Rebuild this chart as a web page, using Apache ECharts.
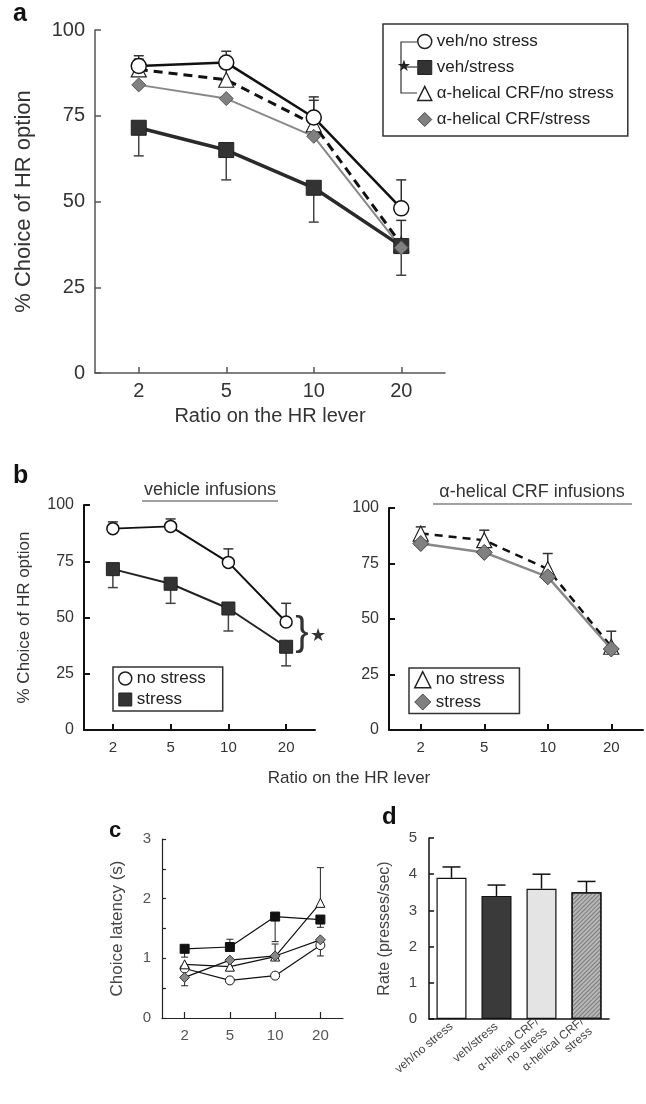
<!DOCTYPE html>
<html>
<head>
<meta charset="utf-8">
<script src="https://cdn.jsdelivr.net/npm/echarts@6/dist/echarts.min.js"></script>
<style>
  html, body { margin: 0; padding: 0; background: #fff; }
  #fig { width: 646px; height: 1104px; }
</style>
</head>
<body>
<div id="fig"></div>
<script>
// ratio on the HR lever (x categories)
const ratios = ['2', '5', '10', '20'];

// % choice of HR option (panels a and b) + error bar ends
const vehNoStress = [89.5, 90.5, 74.5, 48];
const vehNoStressErr = [92.5, 93.8, 80.5, 56.3];
const vehStress = [71.5, 65, 54, 37];
const vehStressErr = [63.3, 56.3, 44, 28.5];
const crfNoStress = [88.5, 85.5, 72.5, 37.5];
const crfNoStressErr = [91.5, 90, 79.5, 44.5];
const crfStress = [84, 80, 69, 36.5];

// choice latency (panel c)
const latVehNoStress = [0.83, 0.63, 0.71, 1.22];
const latVehNoStressErr = [null, null, null, 1.04];
const latVehStress = [1.16, 1.19, 1.7, 1.65];
const latVehStressErr = [1.02, 1.32, 1.28, 1.52];
const latCrfNoStress = [0.9, 0.86, 1.03, 1.93];
const latCrfNoStressErr = [null, null, 1.24, 2.52];
const latCrfStress = [0.68, 0.97, 1.04, 1.31];
const latCrfStressErr = [0.54, null, null, null];

// lever press rate (panel d)
const groups = ['veh/no stress', 'veh/stress', 'α-helical CRF/\nno stress', 'α-helical CRF/\nstress'];
const rate = [3.9, 3.4, 3.6, 3.5];
const rateErr = [4.2, 3.7, 4.0, 3.8];

const FONT = 'Liberation Sans, Arial, sans-serif';

// 误差线 (custom series)
function errBars(values, ends, xi, color, width, cap) {
  const data = [];
  values.forEach((v, i) => { if (ends[i] != null) data.push([i, v, ends[i]]); });
  return {
    type: 'custom', xAxisIndex: xi, yAxisIndex: xi, z: 1, silent: true,
    data: data,
    renderItem: function (params, api) {
      const p0 = api.coord([api.value(0), api.value(1)]);
      const p1 = api.coord([api.value(0), api.value(2)]);
      const st = { stroke: color, lineWidth: width };
      return {
        type: 'group',
        children: [
          { type: 'line', shape: { x1: p0[0], y1: p0[1], x2: p1[0], y2: p1[1] }, style: st },
          { type: 'line', shape: { x1: p1[0] - cap, y1: p1[1], x2: p1[0] + cap, y2: p1[1] }, style: st }
        ]
      };
    }
  };
}

function lineSeries(name, data, xi, opt) {
  return Object.assign({
    name: name, type: 'line', xAxisIndex: xi, yAxisIndex: xi, data: data, z: 3,
    silent: true, animation: false
  }, opt);
}

function catAxis(gi, fontSize, color, lw, tick) {
  return {
    type: 'category', gridIndex: gi, data: ratios, boundaryGap: true,
    axisLine: { show: true, lineStyle: { color: color, width: lw } },
    axisTick: { show: tick, inside: true, alignWithLabel: true, length: 6, lineStyle: { color: color, width: lw } },
    axisLabel: { fontSize: fontSize, color: '#333', fontFamily: FONT, margin: 10 }
  };
}

function valAxis(gi, max, interval, fontSize, color, lw, extra) {
  return Object.assign({
    type: 'value', gridIndex: gi, min: 0, max: max, interval: interval,
    splitLine: { show: false },
    axisLine: { show: true, lineStyle: { color: color, width: lw } },
    axisTick: { show: true, inside: true, length: 6, lineStyle: { color: color, width: lw } },
    axisLabel: { fontSize: fontSize, color: '#333', fontFamily: FONT, margin: 10 },
    nameLocation: 'middle', nameRotate: 90,
    nameTextStyle: { fontSize: fontSize, color: '#333', fontFamily: FONT }
  }, extra);
}

const chart = echarts.init(document.getElementById('fig'));

const styleA = {
  vns: { symbol: 'circle', symbolSize: 15, itemStyle: { color: '#fff', borderColor: '#111', borderWidth: 1.5 }, lineStyle: { color: '#111', width: 2.5 } },
  vs: { symbol: 'rect', symbolSize: 15, itemStyle: { color: '#333', borderColor: '#222', borderWidth: 1 }, lineStyle: { color: '#2a2a2a', width: 3.5 } },
  cns: { symbol: 'triangle', symbolSize: 15, itemStyle: { color: '#fff', borderColor: '#222', borderWidth: 1.2 }, lineStyle: { color: '#111', width: 3, type: [9, 6] } },
  cs: { symbol: 'diamond', symbolSize: 14, itemStyle: { color: '#808080', borderColor: '#555', borderWidth: 1 }, lineStyle: { color: '#888', width: 2 } }
};

const option = {
  animation: false,
  textStyle: { fontFamily: FONT },
  grid: [
    { left: 95, top: 30, width: 350, height: 343 },   // a
    { left: 84, top: 505, width: 231, height: 225 },  // b left
    { left: 389, top: 508, width: 254, height: 222 }, // b right
    { left: 162, top: 839, width: 181, height: 179 }, // c
    { left: 429, top: 838, width: 180, height: 181 }  // d
  ],
  xAxis: [
    Object.assign(catAxis(0, 20, '#555', 1.5, true), {
      name: 'Ratio on the HR lever', nameLocation: 'middle', nameGap: 33,
      nameTextStyle: { fontSize: 20, color: '#333', fontFamily: FONT },
      axisLabel: { fontSize: 20, color: '#333', fontFamily: FONT, margin: 8 }
    }),
    catAxis(1, 15, '#111', 2, true),
    catAxis(2, 15, '#111', 2, true),
    Object.assign(catAxis(3, 14, '#222', 1.2, true), {
      axisLabel: { fontSize: 15, color: '#555', fontFamily: FONT, margin: 10 }
    }),
    {
      type: 'category', gridIndex: 4, data: groups,
      axisLine: { show: true, lineStyle: { color: '#111', width: 1.5 } },
      axisTick: { show: false },
      axisLabel: { fontSize: 12, color: '#444', fontFamily: FONT, rotate: 40, margin: 6, interval: 0, lineHeight: 13 }
    }
  ],
  yAxis: [
    valAxis(0, 100, 25, 20, '#555', 1.5, {
      name: '% Choice of HR option', nameGap: 60,
      nameTextStyle: { fontSize: 22, color: '#333', fontFamily: FONT }
    }),
    valAxis(1, 100, 25, 16, '#111', 2, {
      name: '% Choice of HR option', nameGap: 51,
      nameTextStyle: { fontSize: 17, color: '#333', fontFamily: FONT }
    }),
    valAxis(2, 100, 25, 16, '#111', 2, {}),
    valAxis(3, 3, 0.5, 15, '#222', 1.2, {
      axisLabel: { fontSize: 15, color: '#555', fontFamily: FONT, margin: 11,
        formatter: function (v) { return v % 1 === 0 ? String(v) : ''; } },
      axisTick: { show: true, inside: true, length: 4, lineStyle: { color: '#222', width: 1.2 } },
      name: 'Choice latency (s)', nameGap: 36,
      nameTextStyle: { fontSize: 17, color: '#444', fontFamily: FONT }
    }),
    valAxis(4, 5, 1, 14, '#111', 1.5, {
      axisLabel: { fontSize: 15, color: '#444', fontFamily: FONT, margin: 12 },
      axisTick: { show: true, inside: true, length: 5, lineStyle: { color: '#111', width: 1.5 } },
      name: 'Rate (presses/sec)', nameGap: 36,
      nameTextStyle: { fontSize: 16, color: '#444', fontFamily: FONT }
    })
  ],
  legend: [
    { // a
      left: 383, top: 24, orient: 'vertical', padding: [9, 14, 8, 34], itemGap: 9,
      itemWidth: 14, itemHeight: 14, borderColor: '#333', borderWidth: 1.5,
      textStyle: { fontSize: 17, lineHeight: 17, color: '#222', fontFamily: FONT },
      selectedMode: false,
      data: [
        { name: 'veh/no stress', icon: 'circle', itemStyle: { color: '#fff', borderColor: '#222', borderWidth: 1.5 } },
        { name: 'veh/stress', icon: 'rect', itemStyle: { color: '#333', borderColor: '#222', borderWidth: 1 } },
        { name: 'α-helical CRF/no stress', icon: 'triangle', itemStyle: { color: '#fff', borderColor: '#222', borderWidth: 1.5 } },
        { name: 'α-helical CRF/stress', icon: 'diamond', itemStyle: { color: '#808080', borderColor: '#444', borderWidth: 1 } }
      ]
    },
    { // b left
      left: 113, top: 667, orient: 'vertical', padding: [3, 17, 3, 5], itemGap: 4,
      itemWidth: 13, itemHeight: 13, borderColor: '#333', borderWidth: 1.5,
      textStyle: { fontSize: 17, lineHeight: 15, color: '#222', fontFamily: FONT },
      selectedMode: false,
      data: [
        { name: 'no stress', icon: 'circle', itemStyle: { color: '#fff', borderColor: '#222', borderWidth: 1.5 } },
        { name: 'stress', icon: 'rect', itemStyle: { color: '#333', borderColor: '#222', borderWidth: 1 } }
      ]
    },
    { // b right
      left: 409, top: 668, orient: 'vertical', padding: [3, 10, 3, 5], itemGap: 5,
      itemWidth: 16, itemHeight: 16, borderColor: '#333', borderWidth: 1.5,
      textStyle: { fontSize: 17, lineHeight: 16, color: '#222', fontFamily: FONT },
      selectedMode: false,
      data: [
        { name: 'no stress ', icon: 'triangle', itemStyle: { color: '#fff', borderColor: '#222', borderWidth: 1.5 } },
        { name: 'stress ', icon: 'diamond', itemStyle: { color: '#808080', borderColor: '#444', borderWidth: 1 } }
      ]
    }
  ],
  series: [
    // a
    errBars(vehNoStress, vehNoStressErr, 0, '#333', 1.5, 5),
    errBars(vehStress, vehStressErr, 0, '#444', 1.5, 5),
    errBars(crfNoStress, crfNoStressErr, 0, '#333', 1.5, 5),
    lineSeries('α-helical CRF/no stress', crfNoStress, 0, styleA.cns),
    lineSeries('veh/stress', vehStress, 0, styleA.vs),
    lineSeries('veh/no stress', vehNoStress, 0, styleA.vns),
    lineSeries('α-helical CRF/stress', crfStress, 0, styleA.cs),

    // b left
    errBars(vehNoStress, vehNoStressErr, 1, '#333', 1.5, 5),
    errBars(vehStress, vehStressErr, 1, '#444', 1.5, 5),
    lineSeries('no stress', vehNoStress, 1, {
      symbol: 'circle', symbolSize: 12, itemStyle: { color: '#fff', borderColor: '#111', borderWidth: 1.5 },
      lineStyle: { color: '#111', width: 2 }
    }),
    lineSeries('stress', vehStress, 1, {
      symbol: 'rect', symbolSize: 13, itemStyle: { color: '#333', borderColor: '#222', borderWidth: 1 },
      lineStyle: { color: '#222', width: 2 }
    }),

    // b right
    errBars(crfNoStress, crfNoStressErr, 2, '#333', 1.5, 5),
    lineSeries('no stress ', crfNoStress, 2, {
      symbol: 'triangle', symbolSize: 15, itemStyle: { color: '#fff', borderColor: '#222', borderWidth: 1.2 },
      lineStyle: { color: '#111', width: 2.5, type: [8, 6] }
    }),
    lineSeries('stress ', crfStress, 2, {
      symbol: 'diamond', symbolSize: 16, itemStyle: { color: '#808080', borderColor: '#444', borderWidth: 1 },
      lineStyle: { color: '#888', width: 2.5 }
    }),

    // c
    errBars(latVehNoStress, latVehNoStressErr, 3, '#222', 1, 3.5),
    errBars(latVehStress, latVehStressErr, 3, '#222', 1, 3.5),
    errBars(latCrfNoStress, latCrfNoStressErr, 3, '#222', 1, 3.5),
    errBars(latCrfStress, latCrfStressErr, 3, '#222', 1, 3.5),
    lineSeries('c veh/no stress', latVehNoStress, 3, {
      symbol: 'circle', symbolSize: 9, itemStyle: { color: '#fff', borderColor: '#111', borderWidth: 1 },
      lineStyle: { color: '#111', width: 1.2 }
    }),
    lineSeries('c α-helical CRF/no stress', latCrfNoStress, 3, {
      symbol: 'triangle', symbolSize: 9, itemStyle: { color: '#fff', borderColor: '#111', borderWidth: 1 },
      lineStyle: { color: '#111', width: 1.2 }
    }),
    lineSeries('c α-helical CRF/stress', latCrfStress, 3, {
      symbol: 'diamond', symbolSize: 10, itemStyle: { color: '#888', borderColor: '#333', borderWidth: 1 },
      lineStyle: { color: '#111', width: 1.2 }
    }),
    lineSeries('c veh/stress', latVehStress, 3, {
      symbol: 'rect', symbolSize: 9, itemStyle: { color: '#111', borderColor: '#111', borderWidth: 1 },
      lineStyle: { color: '#111', width: 1.2 }
    }),

    // d
    errBars(rate, rateErr, 4, '#111', 1.5, 9),
    {
      name: 'rate', type: 'bar', xAxisIndex: 4, yAxisIndex: 4, barWidth: 30, z: 2, silent: true,
      data: rate.map((v, i) => ({
        value: v,
        itemStyle: [
          { color: '#fff', borderColor: '#111', borderWidth: 1.2 },
          { color: '#3a3a3a', borderColor: '#111', borderWidth: 1.2 },
          { color: '#e4e4e4', borderColor: '#111', borderWidth: 1.2 },
          { color: '#b8b8b8', borderColor: '#111', borderWidth: 1.2,
            decal: { symbol: 'rect', symbolSize: 1, dashArrayX: [[1, 0]], dashArrayY: [1, 2], rotation: -Math.PI / 4, color: '#7a7a7a' } }
        ][i]
      }))
    }
  ],
  graphic: [
    { type: 'text', x: 13, y: 2, style: { text: 'a', font: 'bold 25px ' + FONT, fill: '#111' } },
    { type: 'text', x: 13, y: 464, style: { text: 'b', font: 'bold 25px ' + FONT, fill: '#111' } },
    { type: 'text', x: 109, y: 820, style: { text: 'c', font: 'bold 22px ' + FONT, fill: '#111' } },
    { type: 'text', x: 382, y: 805, style: { text: 'd', font: 'bold 24px ' + FONT, fill: '#111' } },
    // legend bracket with star (panel a)
    { type: 'polyline', shape: { points: [[417, 42], [401, 42], [401, 93], [417, 93]] }, style: { stroke: '#333', lineWidth: 1.2, fill: null } },
    { type: 'line', shape: { x1: 405, y1: 67, x2: 417, y2: 67 }, style: { stroke: '#333', lineWidth: 1.2 } },
    { type: 'text', x: 404, y: 67, style: { text: '★', font: '16px DejaVu Sans', fill: '#222', textAlign: 'center', textVerticalAlign: 'middle' } },
    // panel b titles
    { type: 'text', x: 210, y: 490, style: { text: 'vehicle infusions', font: '18px ' + FONT, fill: '#333', textAlign: 'center', textVerticalAlign: 'middle' } },
    { type: 'line', shape: { x1: 142, y1: 501, x2: 278, y2: 501 }, style: { stroke: '#444', lineWidth: 1 } },
    { type: 'text', x: 532, y: 492, style: { text: 'α-helical CRF infusions', font: '18px ' + FONT, fill: '#333', textAlign: 'center', textVerticalAlign: 'middle' } },
    { type: 'line', shape: { x1: 433, y1: 504, x2: 632, y2: 504 }, style: { stroke: '#444', lineWidth: 1 } },
    { type: 'text', x: 349, y: 778, style: { text: 'Ratio on the HR lever', font: '17px ' + FONT, fill: '#333', textAlign: 'center', textVerticalAlign: 'middle' } },
    // significance bracket (panel b)
    { type: 'text', x: 302, y: 634, style: { text: '}', font: '300 40px ' + FONT, fill: '#333', textAlign: 'center', textVerticalAlign: 'middle' } },
    { type: 'text', x: 318, y: 636, style: { text: '★', font: '18px DejaVu Sans', fill: '#333', textAlign: 'center', textVerticalAlign: 'middle' } }
  ]
};

chart.setOption(option);
</script>
</body>
</html>
